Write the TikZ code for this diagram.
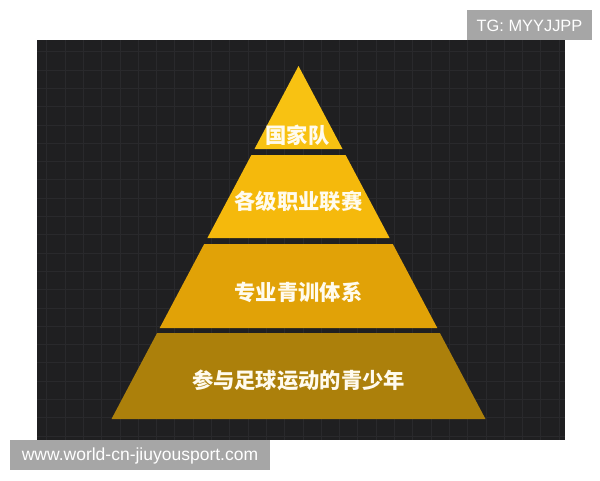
\documentclass[tikz,border=0pt]{standalone}
\usepackage{fontspec}
\setmainfont{Liberation Sans}
\newfontfamily\cjk{Noto Sans CJK SC}
\definecolor{bgdark}{HTML}{1F1F21}
\definecolor{gridc}{HTML}{29292C}
\definecolor{layA}{HTML}{F8C212}
\definecolor{layB}{HTML}{F5B90C}
\definecolor{layC}{HTML}{E1A207}
\definecolor{layD}{HTML}{AC800B}
\definecolor{tagc}{HTML}{A6A6A6}
\definecolor{txtc}{HTML}{FFFBEE}
\tikzset{
  layer/.style={draw=none},
  label/.style={text=txtc, font=\cjk\bfseries\fontsize{21.3}{23}\selectfont, inner sep=0pt},
}
\begin{document}
\begin{tikzpicture}[x=1pt,y=-1pt]
\useasboundingbox (0,0) rectangle (600,480);
\fill[white] (0,0) rectangle (600,480);
% dark board
\fill[bgdark] (37,40) rectangle (565,440);
\begin{scope}
\clip (37,40) rectangle (565,440);
\foreach \i in {0,...,29} {
  \draw[gridc, line width=0.7pt] ({46.7+18.3*\i},40) -- ({46.7+18.3*\i},440);
}
\foreach \j in {0,...,22} {
  \draw[gridc, line width=0.7pt] (37,{51.7+18.3*\j}) -- (565,{51.7+18.3*\j});
}
\end{scope}
% pyramid layers
\fill[layA, layer] (298.5,66) -- (342.5,149) -- (254.5,149) -- cycle;
\fill[layB, layer] (251.4,155) -- (345.6,155) -- (389.6,238) -- (207.4,238) -- cycle;
\fill[layC, layer] (204.2,244) -- (392.8,244) -- (437.3,328) -- (159.7,328) -- cycle;
\fill[layD, layer] (157.1,333) -- (439.9,333) -- (485.5,419) -- (111.5,419) -- cycle;
% labels
\node[label] (l1) at (297.5,135) {国家队};
\node[label] (l2) at (298.5,201.5) {各级职业联赛};
\node[label] (l3) at (298.5,292.5) {专业青训体系};
\node[label] (l4) at (298.5,380) {参与足球运动的青少年};
% tags
\fill[tagc] (467,10) rectangle (592,40);
\node[text=white, inner sep=0pt, font=\fontsize{16.4}{17}\selectfont] (tg) at (529.5,25.5) {TG: MYYJJPP};
\fill[tagc] (10,440) rectangle (270,470);
\node[text=white, inner sep=0pt, font=\fontsize{17.5}{18}\selectfont] (url) at (140,455.5) {www.world-cn-jiuyousport.com};
\end{tikzpicture}
\end{document}
